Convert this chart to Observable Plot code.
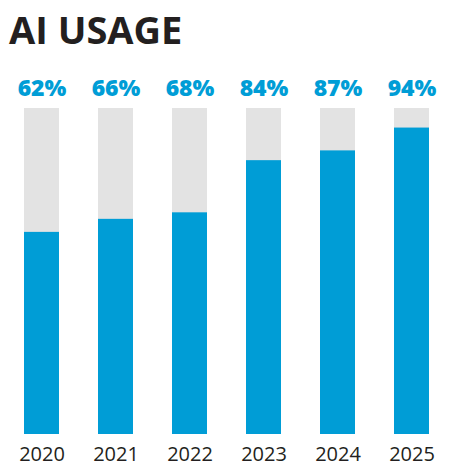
<!DOCTYPE html>
<html>
<head>
<meta charset="utf-8">
<script src="https://cdn.jsdelivr.net/npm/d3@7"></script>
<script src="https://cdn.jsdelivr.net/npm/@observablehq/plot@0.6"></script>
<style>
  body { margin: 0; background: #fff; }
  #title {
    height: 55px;
    margin: 0;
    padding-left: 9px;
    font-family: "Open Sans", sans-serif;
    font-weight: 700;
    font-size: 38px;
    line-height: 58px;
    color: #231f20;
  }
</style>
</head>
<body>
<div id="title">AI USAGE</div>
<div id="chart"></div>
<script>
const years = ["2020", "2021", "2022", "2023", "2024", "2025"]
const usage = [62, 66, 68, 84, 87, 94]

const data = years.map((year, i) => ({year, usage: usage[i]}))

const chart = Plot.plot({
  width: 450,
  height: 420,
  marginLeft: 23,
  marginRight: 20,
  marginTop: 53,
  marginBottom: 41,
  style: {fontFamily: "Open Sans, sans-serif", background: "#fff"},
  x: {domain: years, paddingInner: 0.53, paddingOuter: 0, label: null},
  y: {domain: [0, 100], axis: null},
  marks: [
    // fond gris = 100 %
    Plot.barY(data, {x: "year", y: 100, fill: "#e3e3e3"}),
    Plot.barY(data, {x: "year", y: "usage", fill: "#009dd6"}),
    Plot.text(data, {
      x: "year", y: 100, dy: -20,
      text: d => d.usage + "%",
      fill: "#009dd6", fontSize: 23, fontWeight: 800,
      lineAnchor: "middle"
    }),
    Plot.axisX({tickSize: 0, tickPadding: 12, fontSize: 20, color: "#231f20", label: null})
  ]
})

d3.select("#chart").append(() => chart)
</script>
</body>
</html>
